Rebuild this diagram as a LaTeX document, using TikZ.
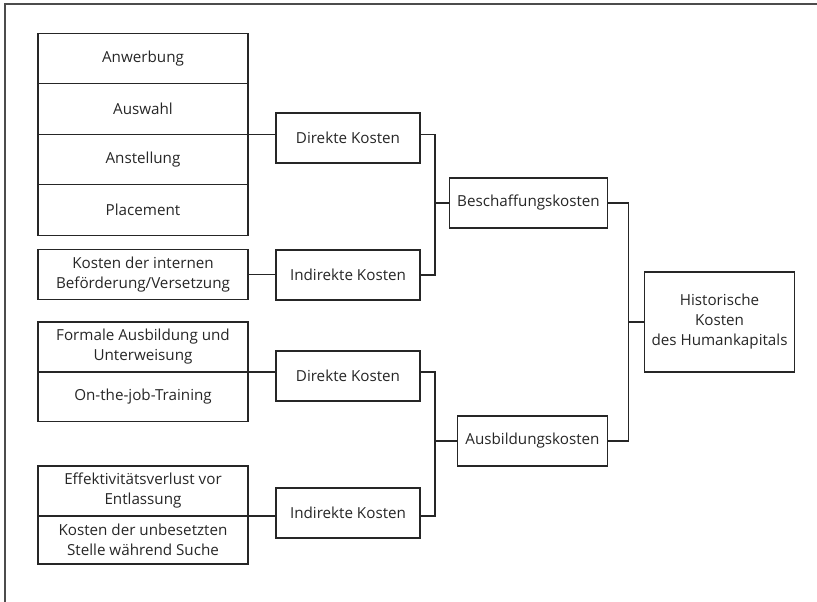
\documentclass[tikz,border=0pt]{standalone}
\usepackage{fontspec}
\setmainfont{Open Sans}
\usetikzlibrary{positioning}
\begin{document}
\begin{tikzpicture}[x=0.75pt,y=-0.75pt, line width=0.8pt, color=black!85,
	box/.style={draw, align=center, inner sep=0pt, outer sep=0pt, font=\fontsize{11.4}{15}\selectfont},
	cell/.style={box, minimum width=157.5pt, minimum height=37.9pt},
	cost/.style={box, minimum width=108pt, minimum height=37.5pt},
	sum/.style={box, minimum height=37.5pt}]
	\useasboundingbox (0,0) rectangle (817,602);

	% Frame
	\draw[black!70] (817,4) -- (5,4) -- (5,602);

	% Beschaffung: direkte Kosten
	\node[cell] (anw) at (143,58.5) {Anwerbung};
	\node[cell, below=0pt of anw] (ausw) {Auswahl};
	\node[cell, below=0pt of ausw] (anst) {Anstellung};
	\node[cell, below=0pt of anst] (plac) {Placement};
	\node[cell, minimum height=38pt] (bef) at (143,274.5) {Kosten der internen\\Beförderung/Versetzung};

	\node[cost] (dk1) at (348,138) {Direkte Kosten};
	\node[cost] (ik1) at (348,275) {Indirekte Kosten};

	% Ausbildung
	\node[cell, minimum height=37.5pt] (form) at (143,347) {Formale Ausbildung und\\Unterweisung};
	\node[cell, below=0pt of form, minimum height=37pt] (ojt) {On-the-job-Training};
	\node[cell, minimum height=37.5pt] (eff) at (143,491) {Effektivitätsverlust vor\\Entlassung};
	\node[cell, below=0pt of eff, minimum height=36pt] (vak) {Kosten der unbesetzten\\Stelle während Suche};

	\node[cost] (dk2) at (348,376) {Direkte Kosten};
	\node[cost] (ik2) at (348,513) {Indirekte Kosten};

	% Summen
	\node[sum, minimum width=119pt] (besch) at (528.5,203) {Beschaffungskosten};
	\node[sum, minimum width=113pt] (ausb) at (532.5,441) {Ausbildungskosten};
	\node[box, minimum width=113pt, minimum height=75pt] (hist) at (719.5,322) {Historische\\Kosten\\des Humankapitals};

	% Verbindungen
	\draw (ausw.south east) -- (dk1.west |- ausw.south east);
	\draw (bef.east) -- (ik1.west |- bef.east);
	\draw (dk1.east |- ausw.south east) -- ++(15,0) |- (ik1.east);
	\draw (besch.west) -- ++(-14,0);

	\draw (form.south east) -- (dk2.west |- form.south east);
	\draw (eff.south east) -- (ik2.west |- eff.south east);
	\draw (dk2.east |- form.south east) -- ++(15,0) |- (ik2.east |- eff.south east);
	\draw (ausb.west) -- ++(-22,0);

	\draw (besch.east) -- ++(21,0) |- (ausb.east);
	\draw (hist.west) -- ++(-15,0);
\end{tikzpicture}
\end{document}
